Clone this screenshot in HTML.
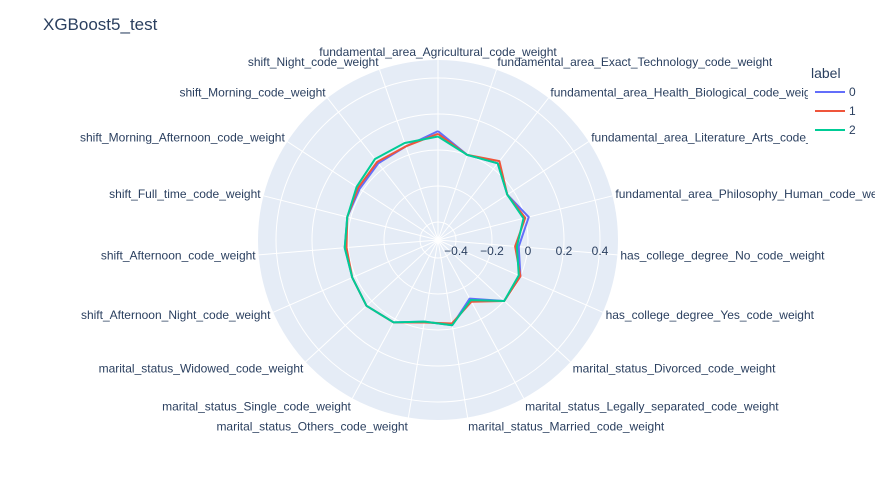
<!DOCTYPE html>
<html><head><meta charset="utf-8">
<style>
body{margin:0;background:#fff;}
svg{display:block;font-family:"Liberation Sans",Arial,sans-serif;}
</style></head>
<body>
<svg id="chart" width="875" height="500">
<text x="43" y="30" font-size="17" fill="#2a3f5f">XGBoost5_test</text>
<g id="plot"></g>
<g id="legend">
<rect x="808" y="58" width="67" height="88" fill="#fff"></rect>
<text x="811" y="78" font-size="14" fill="#2a3f5f">label</text>
</g>
</svg>
<script>
const categories=["fundamental_area_Agricultural_code_weight","fundamental_area_Exact_Technology_code_weight","fundamental_area_Health_Biological_code_weight","fundamental_area_Literature_Arts_code_weight","fundamental_area_Philosophy_Human_code_weight","has_college_degree_No_code_weight","has_college_degree_Yes_code_weight","marital_status_Divorced_code_weight","marital_status_Legally_separated_code_weight","marital_status_Married_code_weight","marital_status_Others_code_weight","marital_status_Single_code_weight","marital_status_Widowed_code_weight","shift_Afternoon_Night_code_weight","shift_Afternoon_code_weight","shift_Full_time_code_weight","shift_Morning_Afternoon_code_weight","shift_Morning_code_weight","shift_Night_code_weight"];
const seriesNames=["0","1","2"];
const values0=[0.105,0.0,0.04,-0.04,0.02,-0.05,0.0,0.0,-0.13,-0.02,-0.04,0.02,0.04,0.02,0.02,0.02,0.02,0.04,0.05];
const values1=[0.09,0.0,0.055,-0.04,0.0,-0.07,0.0,0.0,-0.11,-0.03,-0.035,0.02,0.04,0.02,0.01,0.02,0.03,0.05,0.05];
const values2=[0.075,0.0,0.04,-0.04,-0.01,-0.06,-0.01,0.0,-0.12,-0.02,-0.04,0.02,0.04,0.02,0.02,0.02,0.04,0.07,0.07];
const tickVals=[-0.4,-0.2,0,0.2,0.4];
const tickLabels=["\u22120.4","\u22120.2","0","0.2","0.4"];
const colors=["#636efa","#ef553b","#00cc96"];
const cx=438,cy=240,R=180,rMin=-0.5,rMax=0.5;
const NS="http://www.w3.org/2000/svg";
const g=document.getElementById('plot');
function rad(v){return (v-rMin)/(rMax-rMin)*R;}
function ang(i){return (90-i*360/categories.length)*Math.PI/180;}
function pt(i,v){const r=rad(v),a=ang(i);return [cx+r*Math.cos(a),cy-r*Math.sin(a)];}
function mk(t,attrs){const e=document.createElementNS(NS,t);for(const k in attrs)e.setAttribute(k,attrs[k]);return e;}
const bg=mk('circle',{cx:cx,cy:cy,r:R,fill:'#e5ecf6'});


g.appendChild(bg);
tickVals.forEach(v=>{const c=mk('circle',{cx:cx,cy:cy,r:rad(v),fill:'none',stroke:'#fff','stroke-width':1});


g.appendChild(c);});
categories.forEach((c,i)=>{const a=ang(i);
const l=mk('line',{x1:cx,y1:cy,x2:cx+R*Math.cos(a),y2:cy-R*Math.sin(a),stroke:'#fff','stroke-width':1});


g.appendChild(l);
const co=Math.cos(a),si=Math.sin(a);
const x=cx+183*co,y=cy-187*si;
const anchor=co>0.1?'start':(co<-0.1?'end':'middle');
const t=mk('text',{x:x,y:y+4+(si<-0.5?2:0)-(si>0.9?1:0),'font-size':12,fill:'#2a3f5f','text-anchor':anchor});
t.textContent=c;


g.appendChild(t);});
tickVals.forEach((v,i)=>{const t=mk('text',{x:cx+rad(v),y:cy+15,'font-size':12,fill:'#2a3f5f','text-anchor':'middle'});
t.textContent=tickLabels[i];


g.appendChild(t);});
[values0,values1,values2].forEach((vals,s)=>{
const pts=vals.map((v,i)=>pt(i,v));pts.push(pts[0]);
const p=mk('polyline',{points:pts.map(q=>q.join(',')).join(' '),fill:'none',stroke:colors[s],'stroke-width':2,'stroke-linejoin':'round'});


g.appendChild(p);});
const lg=document.getElementById('legend');
seriesNames.forEach((n,s)=>{const y=92+s*19;
const l=mk('line',{x1:815,y1:y,x2:845,y2:y,stroke:colors[s],'stroke-width':2});


lg.appendChild(l);
const t=mk('text',{x:849,y:y+4,'font-size':12,fill:'#2a3f5f'});t.textContent=n;


lg.appendChild(t);});
</script>
</body></html>
